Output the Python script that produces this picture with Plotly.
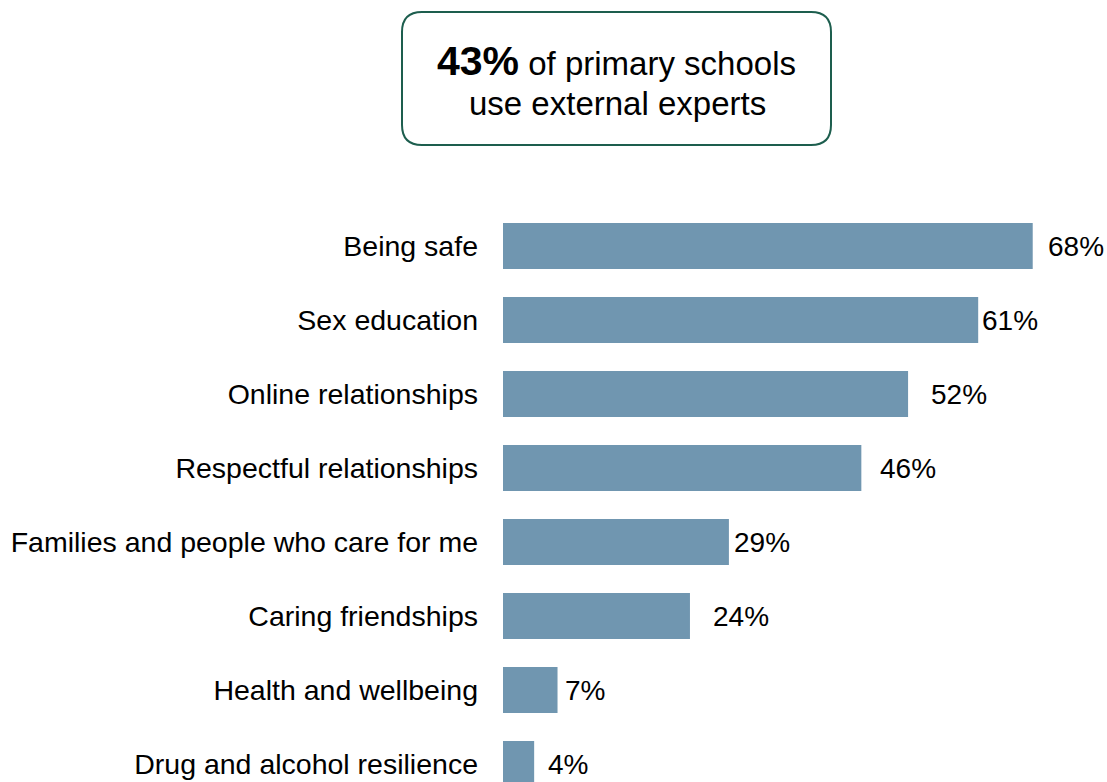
import plotly.graph_objects as go

# Topics covered by external experts (share of primary schools, %)
topics = [
    "Being safe",
    "Sex education",
    "Online relationships",
    "Respectful relationships",
    "Families and people who care for me",
    "Caring friendships",
    "Health and wellbeing",
    "Drug and alcohol resilience",
]
shares = [68, 61, 52, 46, 29, 24, 7, 4]
label_gaps = [13, 2, 21, 17, 3, 21, 5, 12]  # px between bar end and value label

headline_value = 43
headline_line1 = "of primary schools"
headline_line2 = "use external experts"

BAR_COLOR = "#7096B0"
BOX_COLOR = "#1D5E4E"
FONT = "Liberation Sans, Arial, sans-serif"

W, H = 1107, 782
L, R, T, B = 503, 0, 175, 0
plot_w, plot_h = W - L - R, H - T - B


def px_x(p):
    return (p - L) / plot_w


def px_y(p):
    return (H - B - p) / plot_h


fig = go.Figure(
    go.Bar(
        x=shares,
        y=topics,
        orientation="h",
        marker=dict(color=BAR_COLOR, line=dict(width=0)),
        width=0.62,
        hoverinfo="skip",
    )
)

for t, v, g in zip(topics, shares, label_gaps):
    fig.add_annotation(
        x=v, y=t, xref="x", yref="y", text=f"{v}%", showarrow=False,
        xanchor="left", yanchor="middle", xshift=g,
        font=dict(family=FONT, size=28, color="#000"),
    )

# Rounded headline box
x0, x1, y0, y1 = 402, 831, 12, 145
r = 20
path = (
    f"M {px_x(x0 + r)},{px_y(y0)} L {px_x(x1 - r)},{px_y(y0)} "
    f"Q {px_x(x1)},{px_y(y0)} {px_x(x1)},{px_y(y0 + r)} "
    f"L {px_x(x1)},{px_y(y1 - r)} Q {px_x(x1)},{px_y(y1)} {px_x(x1 - r)},{px_y(y1)} "
    f"L {px_x(x0 + r)},{px_y(y1)} Q {px_x(x0)},{px_y(y1)} {px_x(x0)},{px_y(y1 - r)} "
    f"L {px_x(x0)},{px_y(y0 + r)} Q {px_x(x0)},{px_y(y0)} {px_x(x0 + r)},{px_y(y0)} Z"
)
fig.add_shape(type="path", path=path, xref="paper", yref="paper",
              line=dict(color=BOX_COLOR, width=2), fillcolor="white")

fig.add_annotation(
    x=px_x(616), y=px_y(61), xref="paper", yref="paper", showarrow=False,
    text=f"<span style='font-size:41px'><b>{headline_value}%</b></span> {headline_line1}",
    xanchor="center", yanchor="middle",
    font=dict(family=FONT, size=33, color="#000"),
)
fig.add_annotation(
    x=px_x(617), y=px_y(103), xref="paper", yref="paper", showarrow=False,
    text=headline_line2, xanchor="center", yanchor="middle",
    font=dict(family=FONT, size=33, color="#000"),
)

fig.update_layout(
    width=W, height=H,
    margin=dict(l=L, r=R, t=T, b=B),
    paper_bgcolor="white", plot_bgcolor="white",
    showlegend=False,
    xaxis=dict(range=[0, plot_w / 7.79], visible=False, fixedrange=True),
    yaxis=dict(
        type="category", categoryorder="array", categoryarray=topics,
        range=[7 + 18 / 74, -(246 - T) / 74],
        showgrid=False, zeroline=False, showline=False, ticks="",
        ticklabelstandoff=24,
        tickfont=dict(family=FONT, size=28.5, color="#000"),
    ),
)

fig.write_html("out.html")
